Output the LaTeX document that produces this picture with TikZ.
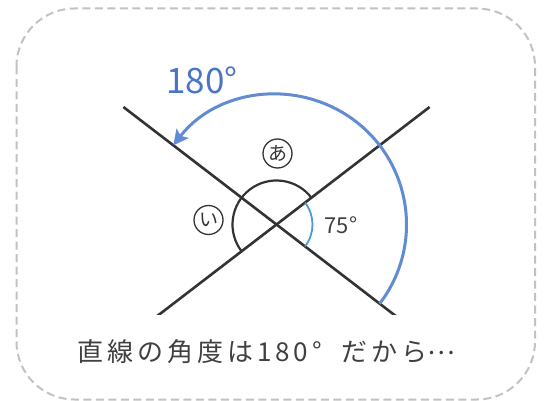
\documentclass[tikz,border=0pt]{standalone}
\usepackage{fontspec}
\setmainfont{Noto Sans CJK JP}
\usetikzlibrary{arrows.meta}
\newlength{\du}
\setlength{\du}{1pt}
\definecolor{framecolor}{rgb}{0.760000, 0.760000, 0.760000}
\definecolor{linecolor}{rgb}{0.200000, 0.200000, 0.200000}
\definecolor{textcolor}{rgb}{0.250000, 0.250000, 0.250000}
\definecolor{arccolor}{rgb}{0.380000, 0.550000, 0.820000}
\definecolor{labelcolor}{rgb}{0.290000, 0.460000, 0.780000}
\definecolor{anglecolor}{rgb}{0.300000, 0.600000, 0.850000}
\tikzset{
  xline/.style={draw=linecolor, line width=2.6\du},
  bigarc/.style={draw=arccolor, line width=3\du, -{Stealth[length=15pt,width=15pt,inset=3pt]}},
  anglearc/.style={draw=linecolor, line width=2.2\du},
  smallarc/.style={draw=anglecolor, line width=1.8\du},
  circlabel/.style={circle, draw=linecolor, line width=1.3\du, minimum size=29\du, inner sep=0pt, text=linecolor, font=\fontsize{19}{19}\selectfont}
}
\begin{document}
\begin{tikzpicture}
\pgftransformxscale{1.000000}
\pgftransformyscale{-1.000000}
\useasboundingbox (0\du,0\du) rectangle (546\du,401\du);
% frame
\draw[framecolor, line width=2\du, dash pattern=on 8\du off 4.5\du, rounded corners=58\du] (16.5\du,8.5\du) rectangle (535\du,399.5\du);
% the two lines
\coordinate (c) at (276.5\du,224.5\du);
\path (c) ++(-142.5:193\du) coordinate (ul);
\path (c) ++(-37.5:193\du) coordinate (ur);
\path (c) ++(37.5:170\du) coordinate (lr);
\path (c) ++(142.5:170\du) coordinate (ll);
\begin{scope}
\clip (0\du,0\du) rectangle (546\du,314\du);
\draw[xline] (ul)--(lr);
\draw[xline] (ur)--(ll);
\end{scope}
% angles
\draw[anglearc] (c) ++(-37.5:44\du) arc[start angle=-37.5, end angle=-217.5, radius=44\du];
\draw[smallarc] (c) ++(37.5:36\du) arc[start angle=37.5, end angle=-37.5, radius=36\du];
\draw[bigarc] (c) ++(37.5:130\du) arc[start angle=37.5, end angle=-142.5, radius=130\du];
% labels
\node[text=labelcolor, font=\fontsize{35}{35}\selectfont] (deg180) at (202\du,80\du){180°};
\node[circlabel] (a) at (277.5\du,153.5\du){あ};
\node[circlabel] (i) at (208.5\du,220\du){い};
\node[text=textcolor, font=\fontsize{22}{22}\selectfont] (deg75) at (341\du,225\du){75°};
\node[text=textcolor, font=\fontsize{26}{26}\selectfont\addfontfeature{LetterSpace=15}] (caption) at (266.5\du,352\du){直線の角度は180°\hspace{20\du}だから\raisebox{0.3em}{…}};
\end{tikzpicture}
\end{document}
